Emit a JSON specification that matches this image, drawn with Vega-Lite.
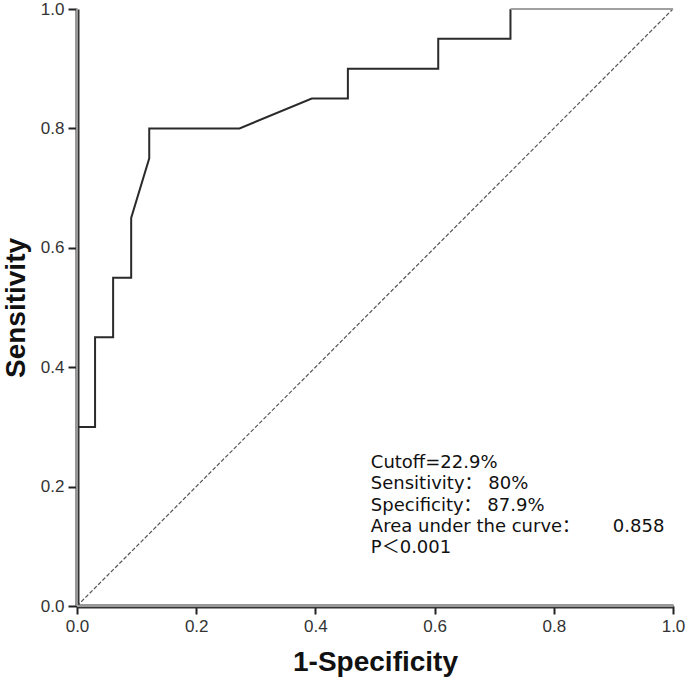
{
  "$schema": "https://vega.github.io/schema/vega-lite/v6.json",
  "width": 596,
  "height": 597,
  "autosize": "none",
  "padding": {"left": 77, "top": 9, "right": 12, "bottom": 79},
  "background": "white",
  "config": {"view": {"stroke": null}},
  "datasets": {
    "roc": [
      {"o": 1, "fpr": 0.0, "tpr": 0.0, "s": "a"},
      {"o": 2, "fpr": 0.0, "tpr": 0.30, "s": "a"},
      {"o": 3, "fpr": 0.0303, "tpr": 0.30, "s": "a"},
      {"o": 4, "fpr": 0.0303, "tpr": 0.45, "s": "a"},
      {"o": 5, "fpr": 0.0606, "tpr": 0.45, "s": "a"},
      {"o": 6, "fpr": 0.0606, "tpr": 0.55, "s": "a"},
      {"o": 7, "fpr": 0.0909, "tpr": 0.55, "s": "a"},
      {"o": 8, "fpr": 0.0909, "tpr": 0.65, "s": "a"},
      {"o": 9, "fpr": 0.1212, "tpr": 0.75, "s": "a"},
      {"o": 10, "fpr": 0.1212, "tpr": 0.80, "s": "a"},
      {"o": 11, "fpr": 0.2727, "tpr": 0.80, "s": "a"},
      {"o": 12, "fpr": 0.3939, "tpr": 0.85, "s": "a"},
      {"o": 13, "fpr": 0.4545, "tpr": 0.85, "s": "a"},
      {"o": 14, "fpr": 0.4545, "tpr": 0.90, "s": "a"},
      {"o": 15, "fpr": 0.6061, "tpr": 0.90, "s": "a"},
      {"o": 16, "fpr": 0.6061, "tpr": 0.95, "s": "a"},
      {"o": 17, "fpr": 0.7273, "tpr": 0.95, "s": "a"},
      {"o": 18, "fpr": 0.7273, "tpr": 1.0, "s": "a"},
      {"o": 19, "fpr": 0.7273, "tpr": 1.0, "s": "b"},
      {"o": 20, "fpr": 1.0, "tpr": 1.0, "s": "b"}
    ],
    "diag": [
      {"fpr": 0.0, "tpr": 0.0},
      {"fpr": 1.0, "tpr": 1.0}
    ],
    "notes": [
      {"fpr": 0.493, "tpr": 0.2395, "label": "Cutoff=22.9%"},
      {"fpr": 0.493, "tpr": 0.2044, "label": "Sensitivity： 80%"},
      {"fpr": 0.493, "tpr": 0.1675, "label": "Specificity： 87.9%"},
      {"fpr": 0.493, "tpr": 0.1323, "label": "Area under the curve：\u3000\u3000 0.858"},
      {"fpr": 0.493, "tpr": 0.0972, "label": "P＜0.001"}
    ]
  },
  "layer": [
    {
      "data": {"name": "diag"},
      "mark": {"type": "line", "color": "#555555", "strokeWidth": 1.2, "strokeDash": [4, 2]},
      "encoding": {
        "x": {
          "field": "fpr", "type": "quantitative",
          "scale": {"domain": [0, 1], "nice": false, "zero": false},
          "axis": {
            "title": "1-Specificity",
            "titleFont": "Liberation Sans", "titleFontSize": 28, "titleFontWeight": "bold",
            "titleColor": "#111111", "titlePadding": 14,
            "values": [0, 0.2, 0.4, 0.6, 0.8, 1.0], "format": ".1f",
            "labelFont": "Liberation Sans", "labelFontSize": 17, "labelColor": "#333333",
            "labelPadding": 4, "labelFlush": false,
            "domainColor": "#333333", "domainWidth": 4,
            "tickColor": "#222222", "tickWidth": 2, "tickSize": 8,
            "grid": false
          }
        },
        "y": {
          "field": "tpr", "type": "quantitative",
          "scale": {"domain": [0, 1], "nice": false, "zero": false},
          "axis": {
            "title": "Sensitivity",
            "titleFont": "Liberation Sans", "titleFontSize": 28, "titleFontWeight": "bold",
            "titleColor": "#111111", "titlePadding": 10,
            "values": [0, 0.2, 0.4, 0.6, 0.8, 1.0], "format": ".1f",
            "labelFont": "Liberation Sans", "labelFontSize": 17, "labelColor": "#333333",
            "labelPadding": 4, "labelFlush": false,
            "domainColor": "#333333", "domainWidth": 4,
            "tickColor": "#222222", "tickWidth": 2, "tickSize": 9,
            "grid": false
          }
        }
      }
    },
    {
      "data": {"name": "roc"},
      "mark": {"type": "line", "strokeWidth": 2},
      "encoding": {
        "x": {"field": "fpr", "type": "quantitative"},
        "y": {"field": "tpr", "type": "quantitative"},
        "order": {"field": "o", "type": "quantitative"},
        "color": {
          "field": "s", "type": "nominal",
          "scale": {"domain": ["a", "b"], "range": ["#2a2a2a", "#a0a0a0"]},
          "legend": null
        }
      }
    },
    {
      "data": {"values": [{"v": 0}]},
      "mark": {"type": "rule", "color": "#bbbbbb", "strokeWidth": 1.5},
      "encoding": {"x": {"datum": 0, "type": "quantitative"}}
    },
    {
      "data": {"values": [{"v": 0}]},
      "mark": {"type": "rule", "color": "#bbbbbb", "strokeWidth": 1.5},
      "encoding": {"y": {"datum": 0, "type": "quantitative"}}
    },
    {
      "data": {"name": "notes"},
      "mark": {"type": "text", "align": "left", "baseline": "middle", "font": "DejaVu Sans, Noto Sans CJK SC", "fontSize": 18, "color": "#111111"},
      "encoding": {
        "x": {"field": "fpr", "type": "quantitative"},
        "y": {"field": "tpr", "type": "quantitative"},
        "text": {"field": "label"}
      }
    }
  ]
}
